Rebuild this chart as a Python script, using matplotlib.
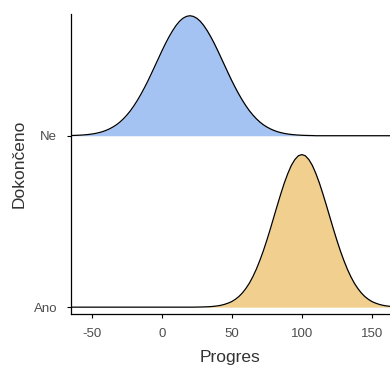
import numpy as np
import matplotlib
matplotlib.use("Agg")
import matplotlib.pyplot as plt

plt.rcParams["font.family"] = ["Liberation Sans", "DejaVu Sans"]
plt.rcParams["axes.unicode_minus"] = False

# categories (bottom to top) and density heights
categories = ["Ano", "Ne"]
x_grid = [-65 + 2.5 * i for i in range(93)]

ne_heights = [0.0013, 0.0019, 0.0027, 0.0038, 0.0053, 0.0073, 0.010, 0.0134, 0.018, 0.0236,
              0.031, 0.040, 0.051, 0.064, 0.080, 0.099, 0.121, 0.146, 0.175, 0.207,
              0.242, 0.280, 0.320, 0.363, 0.407, 0.451, 0.495, 0.537, 0.576, 0.611,
              0.642, 0.667, 0.685, 0.696, 0.700, 0.696, 0.685, 0.667, 0.642, 0.611,
              0.576, 0.537, 0.495, 0.451, 0.407, 0.363, 0.320, 0.280, 0.242, 0.207,
              0.175, 0.146, 0.121, 0.099, 0.080, 0.064, 0.051, 0.040, 0.031, 0.0236,
              0.018, 0.0134, 0.010, 0.0073, 0.0053, 0.0038, 0.0027, 0.0019, 0.0013, 0.0009,
              0, 0, 0, 0, 0, 0, 0, 0, 0, 0,
              0, 0, 0, 0, 0, 0, 0, 0, 0, 0,
              0, 0, 0]

ano_heights = [0, 0, 0, 0, 0, 0, 0, 0, 0, 0,
               0, 0, 0, 0, 0, 0, 0, 0, 0, 0,
               0, 0, 0, 0, 0, 0, 0, 0, 0, 0,
               0, 0, 0, 0, 0, 0,
               0.0005, 0.0009, 0.0014, 0.0022, 0.0034, 0.0052, 0.0078, 0.0115, 0.017, 0.024,
               0.033, 0.046, 0.062, 0.083, 0.109, 0.140, 0.178, 0.222, 0.273, 0.329,
               0.391, 0.457, 0.526, 0.595, 0.662, 0.725, 0.780, 0.827, 0.861, 0.883,
               0.890, 0.883, 0.861, 0.827, 0.780, 0.725, 0.662, 0.595, 0.526, 0.457,
               0.391, 0.329, 0.273, 0.222, 0.178, 0.140, 0.109, 0.083, 0.062, 0.046,
               0.033, 0.024, 0.017, 0.0115, 0.0078, 0.0052, 0.0034]

fill_colors = {"Ne": "#A4C3F2", "Ano": "#F1CF8F"}
x_ticks = [-50, 0, 50, 100, 150]

fig = plt.figure(figsize=(3.9, 3.69), dpi=100)
ax = fig.add_axes([0.182, 0.149, 0.818, 0.813])

x = np.array(x_grid, dtype=float)
series = {"Ano": np.array(ano_heights), "Ne": np.array(ne_heights)}

for i, cat in reversed(list(enumerate(categories))):
    base = i + 1
    h = series[cat]
    ax.fill_between(x, base, base + h, where=h > 0, color=fill_colors[cat],
                    linewidth=0, zorder=2 + (1 - i))
    ax.plot(x, base + h, color="black", linewidth=0.9, zorder=3 + (1 - i))

ax.set_xlim(-65, 163)
ax.set_ylim(0.96, 2.71)
ax.set_yticks([1, 2])
ax.set_yticklabels(categories)
ax.set_xticks(x_ticks)

for side in ["top", "right"]:
    ax.spines[side].set_visible(False)
for side in ["left", "bottom"]:
    ax.spines[side].set_linewidth(0.9)

ax.tick_params(axis="both", labelsize=9.5, labelcolor="#4D4D4D", color="black",
               length=3, width=0.8)
ax.tick_params(axis="x", pad=7)
ax.tick_params(axis="y", pad=7)
ax.set_xlabel("Progres", fontsize=12.5, color="#333333", labelpad=7)
ax.set_ylabel("Dokončeno", fontsize=12.5, color="#333333", labelpad=5)

fig.savefig("out.png", dpi=100)
